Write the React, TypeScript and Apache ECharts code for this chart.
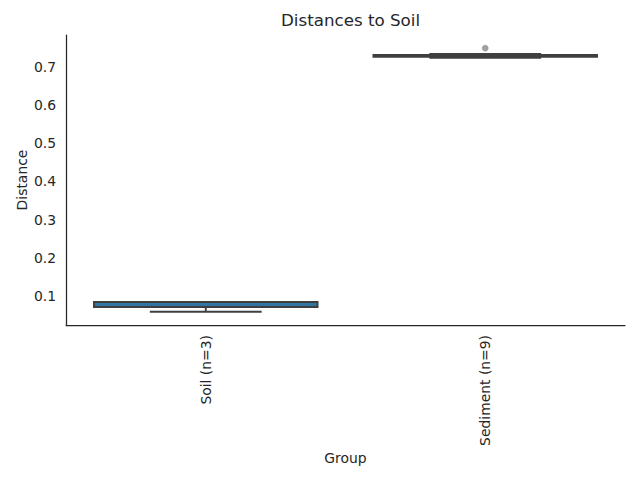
import React, { useEffect, useRef } from "react";
import * as echarts from "echarts";

const groups = ["Soil (n=3)", "Sediment (n=9)"];
const whiskerLow = [0.0586, 0.7236];
const q1Values = [0.0712, 0.7262];
const medianValues = [0.0843, 0.7288];
const q3Values = [0.0843, 0.7314];
const whiskerHigh = [0.0843, 0.7341];
const outlierGroups = [1];
const outlierValues = [0.749];
const yTicks = [0.1, 0.2, 0.3, 0.4, 0.5, 0.6, 0.7];

const FILLS = ["#3274a1", "#e1812c"];
const LINE = "#3f3f3f";
const TEXT = "#262626";
const FONT = "DejaVu Sans";

export default function App() {
  const ref = useRef<HTMLDivElement>(null);
  useEffect(() => {
    if (!ref.current) return;
    const chart = echarts.init(ref.current, null, { renderer: "svg" });
    const boxData = groups.map((_, i) => [
      i,
      whiskerLow[i],
      q1Values[i],
      medianValues[i],
      q3Values[i],
      whiskerHigh[i],
    ]);
    chart.setOption({
      animation: false,
      backgroundColor: "#ffffff",
      textStyle: { fontFamily: FONT },
      title: {
        text: "Distances to Soil",
        left: 345.5,
        textAlign: "center",
        top: 6,
        textStyle: { fontFamily: FONT, fontSize: 16.7, fontWeight: "normal", color: TEXT },
      },
      grid: { left: 66, right: 15, top: 35, bottom: 155 },
      xAxis: {
        type: "category",
        data: groups,
        boundaryGap: true,
        name: "Group",
        nameLocation: "middle",
        nameGap: 126,
        nameMoveOverlap: false,
        nameTextStyle: { fontFamily: FONT, fontSize: 13.9, color: TEXT },
        axisLine: { show: true, lineStyle: { color: TEXT, width: 1.25 } },
        axisTick: { show: false },
        axisLabel: { rotate: 90, margin: 10, fontFamily: FONT, fontSize: 13.9, color: TEXT },
        splitLine: { show: false },
      },
      yAxis: {
        type: "value",
        min: 0.024,
        max: 0.7835,
        name: "Distance",
        nameLocation: "middle",
        nameGap: 37,
        nameMoveOverlap: false,
        nameTextStyle: { fontFamily: FONT, fontSize: 13.9, color: TEXT },
        axisLine: { show: true, lineStyle: { color: TEXT, width: 1.25 } },
        axisTick: { show: false },
        axisLabel: {
          margin: 10,
          fontFamily: FONT,
          fontSize: 13.9,
          color: TEXT,
          customValues: yTicks,
          formatter: (v: number) => v.toFixed(1),
        },
        splitLine: { show: false },
      },
      series: [
        {
          type: "custom",
          data: boxData,
          encode: { x: 0, y: [1, 2, 3, 4, 5] },
          renderItem: (params: any, api: any) => {
            const x = api.value(0);
            const lo = api.coord([x, api.value(1)]);
            const q1 = api.coord([x, api.value(2)]);
            const med = api.coord([x, api.value(3)]);
            const q3 = api.coord([x, api.value(4)]);
            const hi = api.coord([x, api.value(5)]);
            const band = api.size([1, 0])[0];
            const half = band * 0.4;
            const capHalf = half / 2;
            const cx = lo[0];
            const lw = 1.9;
            const lineStyle = { stroke: LINE, lineWidth: lw, lineCap: "butt" };
            return {
              type: "group",
              children: [
                {
                  type: "line",
                  shape: { x1: cx, y1: q1[1], x2: cx, y2: lo[1] },
                  style: lineStyle,
                },
                {
                  type: "line",
                  shape: { x1: cx, y1: q3[1], x2: cx, y2: hi[1] },
                  style: lineStyle,
                },
                {
                  type: "line",
                  shape: { x1: cx - capHalf, y1: lo[1], x2: cx + capHalf, y2: lo[1] },
                  style: lineStyle,
                },
                {
                  type: "line",
                  shape: { x1: cx - capHalf, y1: hi[1], x2: cx + capHalf, y2: hi[1] },
                  style: lineStyle,
                },
                {
                  type: "rect",
                  shape: { x: cx - half, y: q3[1], width: half * 2, height: q1[1] - q3[1] },
                  style: { fill: FILLS[params.dataIndex % FILLS.length], stroke: LINE, lineWidth: lw },
                },
                {
                  type: "line",
                  shape: { x1: cx - half, y1: med[1], x2: cx + half, y2: med[1] },
                  style: lineStyle,
                },
              ],
            };
          },
          z: 2,
        },
        {
          type: "scatter",
          data: outlierGroups.map((g, i) => [g, outlierValues[i]]),
          symbol: "circle",
          symbolSize: 6,
          itemStyle: { color: "#8a8a8a", borderColor: "#7a7a7a", borderWidth: 0.5 },
          z: 3,
        },
      ],
    });
    return () => chart.dispose();
  }, []);
  return <div ref={ref} style={{ width: 640, height: 480, position: "absolute", left: 0, top: 0 }} />;
}
